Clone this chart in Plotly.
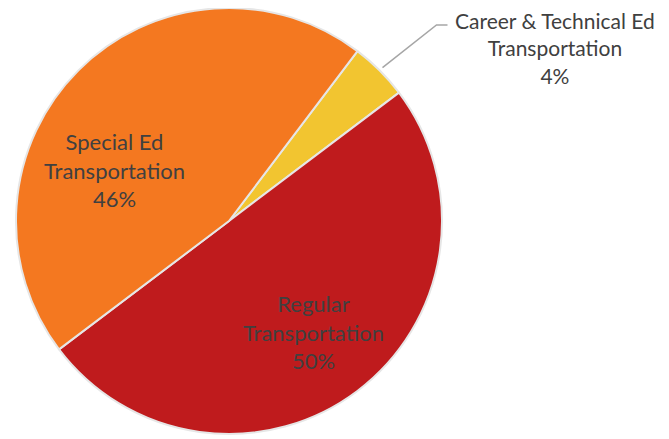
import math
import plotly.graph_objects as go

# slice data (clockwise from the yellow slice)
labels = ["Career & Technical Ed<br>Transportation", "Regular<br>Transportation", "Special Ed<br>Transportation"]
values = [4.4, 50.0, 45.6]
colors = ["#F2C530", "#BF1B1D", "#F47820"]

# the page body has an 8px margin, so the figure is shifted by that much
OFF = 8
W, H = 669 - OFF, 439 - OFF
CX, CY, R = 229 - OFF, 221 - OFF, 213  # pie centre / radius in pixels
ROT = 37.1
FONT = dict(family="Lato, Open Sans, sans-serif", size=22, color="#404040")

fig = go.Figure(
    go.Pie(
        labels=labels,
        values=values,
        sort=False,
        direction="clockwise",
        rotation=ROT,
        marker=dict(colors=colors, line=dict(color="#E6E6E6", width=2)),
        textinfo="none",
        hoverinfo="label+percent",
        domain=dict(x=[(CX - R) / W, (CX + R) / W], y=[(H - CY - R) / H, (H - CY + R) / H]),
        showlegend=False,
    )
)

total = sum(values)
pcts = [round(v / total * 100) for v in values]

# label anchors (pixels, page coords) and font sizes for each slice
label_pos = [(555, 48), (313, 332), (114, 170)]
label_size = [21, 22, 22]
for lab, p, (px, py), sz in zip(labels, pcts, label_pos, label_size):
    fig.add_annotation(
        x=(px - OFF) / W, y=1 - (py - OFF) / H, xref="paper", yref="paper",
        xanchor="center", yanchor="middle",
        text=f"{lab}<br>{p}%", showarrow=False, align="center",
        font=dict(FONT, size=sz),
    )

# leader line for the small slice
mid = math.radians(ROT + values[0] / total * 360 / 2)
x0, y0 = CX + (R + 4) * math.sin(mid), CY - (R + 4) * math.cos(mid)
x1, y1 = x0 + 54, 25 - OFF
x2 = x1 + 11
fig.add_shape(
    type="path",
    xref="paper", yref="paper",
    path=f"M {x0 / W},{1 - y0 / H} L {x1 / W},{1 - y1 / H} L {x2 / W},{1 - y1 / H}",
    line=dict(color="#A6A6A6", width=1.5),
)

fig.update_layout(
    width=W, height=H,
    margin=dict(l=0, r=0, t=0, b=0),
    paper_bgcolor="white",
    plot_bgcolor="white",
)
fig.write_html("out.html")
